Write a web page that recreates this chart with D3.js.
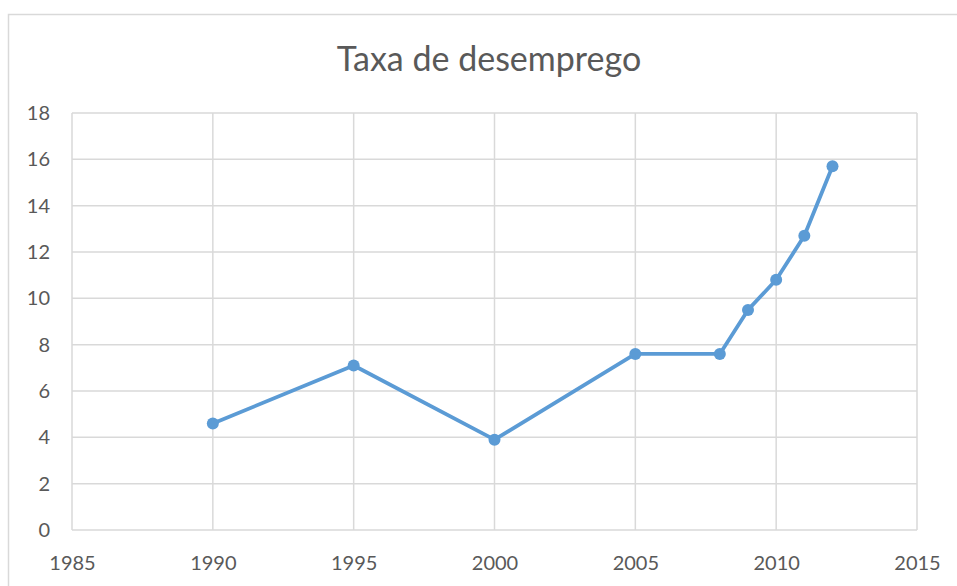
<!DOCTYPE html>
<html><head><meta charset="utf-8">
<script src="https://cdn.jsdelivr.net/npm/d3@7"></script>
<style>body{margin:0;background:#fff;} text{font-family:Lato,"Open Sans",sans-serif;fill:#595959;}</style>
</head><body>
<svg id="c" width="957" height="586"></svg>
<script>
const title = "Taxa de desemprego";
const years = [1990, 1995, 2000, 2005, 2008, 2009, 2010, 2011, 2012];
const rates = [4.6, 7.1, 3.9, 7.6, 7.6, 9.5, 10.8, 12.7, 15.7];
const xTicks = [1985, 1990, 1995, 2000, 2005, 2010, 2015];
const yTicks = [0, 2, 4, 6, 8, 10, 12, 14, 16, 18];

const svg = d3.select("#c");
svg.append("rect").attr("x", 0).attr("y", 0).attr("width", 957).attr("height", 586).attr("fill", "#fff");
svg.append("path").attr("d", "M8.5,586 L8.5,14.5 L957,14.5").attr("fill", "none").attr("stroke", "#d9d9d9").attr("stroke-width", 1.5);

const x = d3.scaleLinear().domain([1985, 2015]).range([72, 917]);
const y = d3.scaleLinear().domain([0, 18]).range([530, 113]);

const grid = svg.append("g");
yTicks.forEach(t => grid.append("line").attr("x1", x(1985)).attr("x2", x(2015)).attr("y1", y(t)).attr("y2", y(t)).attr("stroke", "#d9d9d9").attr("stroke-width", 1.5));
xTicks.forEach(t => grid.append("line").attr("x1", x(t)).attr("x2", x(t)).attr("y1", y(0)).attr("y2", y(18)).attr("stroke", "#d9d9d9").attr("stroke-width", 1.5));

const xAxis = d3.axisBottom(x).tickValues(xTicks).tickFormat(d3.format("d")).tickSize(0).tickPadding(26);
const gx = svg.append("g").attr("transform", `translate(0,${y(0)})`).call(xAxis);
gx.select(".domain").remove();
gx.selectAll("text").style("font-size", "20px").attr("fill", "#595959");

const yAxis = d3.axisLeft(y).tickValues(yTicks).tickSize(0).tickPadding(22);
const gy = svg.append("g").attr("transform", `translate(${x(1985)},0)`).call(yAxis);
gy.select(".domain").remove();
gy.selectAll("text").style("font-size", "20px").attr("fill", "#595959");

const data = years.map((d, i) => ({year: d, v: rates[i]}));
svg.append("path").datum(data)
  .attr("d", d3.line().x(d => x(d.year)).y(d => y(d.v)))
  .attr("fill", "none").attr("stroke", "#5b9bd5").attr("stroke-width", 3.8).attr("stroke-linejoin", "round");
svg.selectAll("circle.pt").data(data).enter().append("circle")
  .attr("cx", d => x(d.year)).attr("cy", d => y(d.v)).attr("r", 6).attr("fill", "#5b9bd5");

svg.append("text").attr("x", 489).attr("y", 71).attr("text-anchor", "middle").style("font-size", "34px").text(title);
</script>
</body></html>
